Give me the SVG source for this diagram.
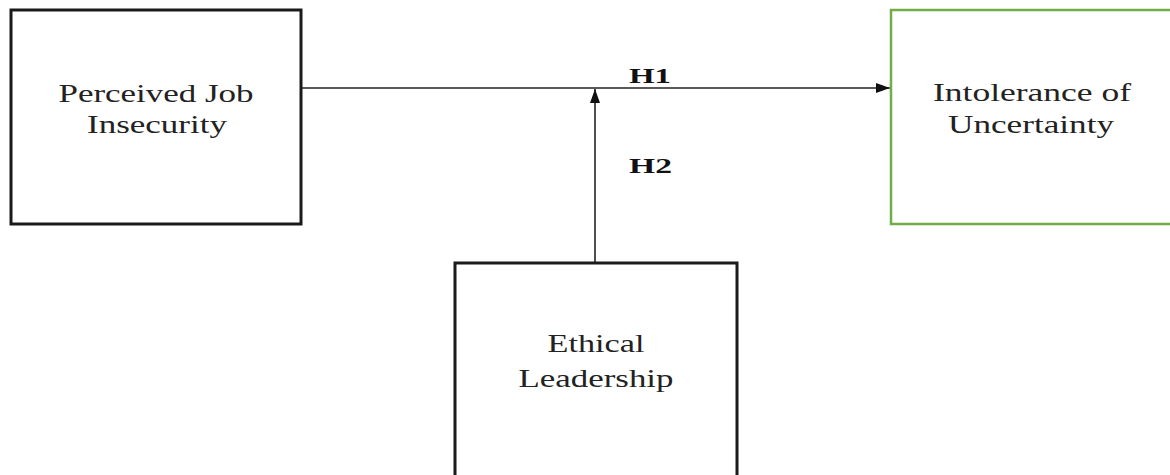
<svg xmlns="http://www.w3.org/2000/svg" width="1170" height="475" viewBox="0 0 1170 475">
<style>
.box{fill:#fff;stroke:#1a1a1a;stroke-width:3}
.gbox{fill:#fff;stroke:#70ad47;stroke-width:2.5}
.lbl{font-family:"Liberation Serif","Times New Roman",serif;font-size:26px;fill:#222;text-anchor:middle}
.h{font-family:"Liberation Serif","Times New Roman",serif;font-size:21px;font-weight:bold;fill:#111}
.conn{stroke:#222;stroke-width:1.6;fill:none}
</style>
<defs>
<marker id="arr" viewBox="0 0 10 10" refX="10" refY="5" markerWidth="10" markerHeight="10" markerUnits="userSpaceOnUse" orient="auto">
<path d="M0,0 L10,5 L0,10 z" fill="#111"/>
</marker>
<marker id="arr2" viewBox="0 0 14 10" refX="14" refY="5" markerWidth="14" markerHeight="11" markerUnits="userSpaceOnUse" orient="auto">
<path d="M0,0 L14,5 L0,10 z" fill="#111"/>
</marker>
</defs>
<rect width="1170" height="475" fill="#fff"/>
<g id="connectors">
<line class="conn" x1="302" y1="88" x2="890" y2="88" marker-end="url(#arr2)"/>
<line class="conn" x1="595" y1="262" x2="595" y2="89" marker-end="url(#arr2)"/>
<text class="h" x="629" y="83" textLength="42" lengthAdjust="spacingAndGlyphs">H1</text>
<text class="h" x="629" y="173" textLength="43" lengthAdjust="spacingAndGlyphs">H2</text>
</g>
<g id="node-pji">
<rect class="box" x="11" y="10" width="290" height="214"/>
<text class="lbl" x="156" y="102" textLength="195" lengthAdjust="spacingAndGlyphs">Perceived Job</text>
<text class="lbl" x="157" y="133" textLength="140" lengthAdjust="spacingAndGlyphs">Insecurity</text>
</g>
<g id="node-iu">
<rect class="gbox" x="891" y="10" width="290" height="214"/>
<text class="lbl" x="1032" y="101" textLength="198" lengthAdjust="spacingAndGlyphs">Intolerance of</text>
<text class="lbl" x="1031" y="133" textLength="166" lengthAdjust="spacingAndGlyphs">Uncertainty</text>
</g>
<g id="node-el">
<rect class="box" x="455" y="263" width="282" height="230"/>
<text class="lbl" x="596" y="352" textLength="97" lengthAdjust="spacingAndGlyphs">Ethical</text>
<text class="lbl" x="596" y="387" textLength="155" lengthAdjust="spacingAndGlyphs">Leadership</text>
</g>
</svg>
